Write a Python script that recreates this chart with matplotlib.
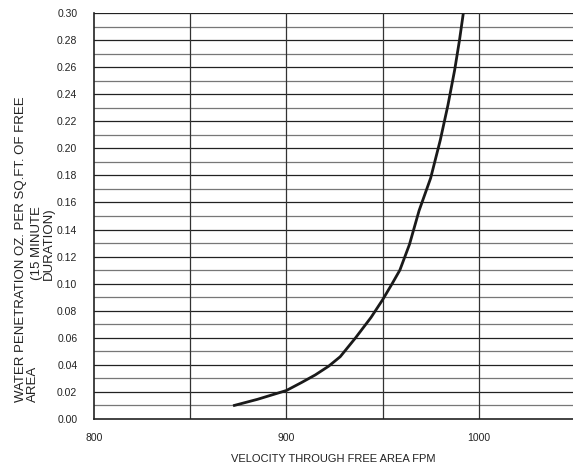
import numpy as np
import matplotlib.pyplot as plt

plt.rcParams['font.family'] = ['Liberation Sans', 'DejaVu Sans']

# curve
velocity = [873, 885, 900, 908, 915, 922, 928, 936, 944, 950, 955, 959, 964, 969, 975, 980, 984, 987.5, 990, 992]
penetration = [0.010, 0.0145, 0.021, 0.027, 0.0325, 0.039, 0.046, 0.060, 0.075, 0.088, 0.100, 0.110, 0.129, 0.154, 0.178, 0.206, 0.232, 0.258, 0.280, 0.300]

x_ticks = [800, 900, 1000]
x_grid = [850, 900, 950, 1000]
y_ticks = np.round(np.arange(0, 0.301, 0.02), 2)
y_grid = np.round(np.arange(0.01, 0.301, 0.01), 2)

fig = plt.figure(figsize=(5.73, 4.66), dpi=100)
ax = fig.add_axes([0.164, 0.101, 0.836, 0.871])

for i, y in enumerate(y_grid):
    ax.axhline(y, color='#222222' if i % 2 else '#777777', lw=0.9, zorder=1)
for x in x_grid:
    ax.axvline(x, color='#333333', lw=0.9, zorder=1)

ax.plot(velocity, penetration, color='#1a1a1a', lw=2, zorder=3)

ax.set_xlim(800, 1049)
ax.set_ylim(0, 0.30)
ax.set_xticks(x_ticks)
ax.set_yticks(y_ticks)
ax.set_yticklabels([f'{v:.2f}' for v in y_ticks])
ax.tick_params(length=0, labelsize=7.5, colors='#222222')
ax.tick_params(axis='x', pad=10)
ax.tick_params(axis='y', pad=12)

for s in ['top', 'right']:
    ax.spines[s].set_visible(False)
for s in ['left', 'bottom']:
    ax.spines[s].set_color('#222222')
    ax.spines[s].set_linewidth(1.2)

ax.set_xlabel('VELOCITY THROUGH FREE AREA FPM', fontsize=8, color='#222222', labelpad=8)

# y label: wrapped the way the reference has it
lab = dict(rotation=90, ha='center', fontsize=9.5, color='#222222')
fig.text(0.037, 0.137, 'WATER PENETRATION OZ. PER SQ.FT. OF FREE', va='bottom', **lab)
fig.text(0.058, 0.137, 'AREA', va='bottom', **lab)
fig.text(0.075, 0.478, '(15 MINUTE\nDURATION)', va='center',
         multialignment='center', linespacing=0.9, **lab)

plt.savefig('out.png', dpi=100)
